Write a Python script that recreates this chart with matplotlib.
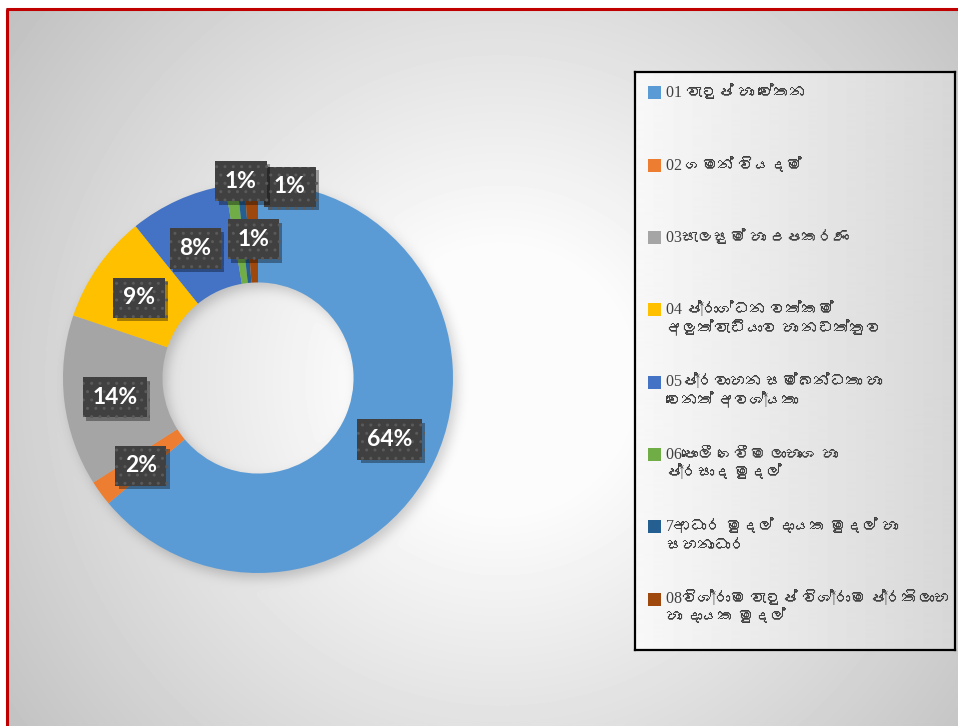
import numpy as np
import matplotlib.pyplot as plt
from matplotlib import font_manager, patheffects
from matplotlib.ft2font import FT2Font
from matplotlib.patches import Rectangle

categories = [
    "01 වැටුප් හා වේතන",
    "02 ගමන් වියදම්",
    "03සැලසුම් හා උපකරණ",
    "04 ප්‍රාග්ධන වත්කම්\nඅලුත්වැඩියාව හා නඩත්තුව",
    "05ප්‍රවාහන සම්බන්ධතා හා\nවෙනත් අවශ්‍යතා",
    "06පොලී ගෙවීම ලාභාංශ හා\nප්‍රසාද මුදල්",
    "7ආධාර මුදල් දායක මුදල් හා\nසහනාධාර",
    "08විශ්‍රාම වැටුප් විශ්‍රාම ප්‍රතිලාභ\nහා දායක මුදල්",
]
shares = [63.9, 2.1, 14.2, 9.0, 8.1, 1.0, 0.6, 1.1]
colors = ['#5B9BD5', '#ED7D31', '#A5A5A5', '#FFC000',
          '#4472C4', '#70AD47', '#255E91', '#9E480E']
# label nudges in pixels (right, up) for the crowded small slices
label_shift = [(0, 0), (0, -2), (1, -2), (0, -3), (-3, -3), (3, 53), (8, -6), (37, 46)]


def find_font(cp):
    for f in font_manager.fontManager.ttflist:
        try:
            if cp in FT2Font(f.fname).get_charmap():
                return f.name
        except Exception:
            pass
    return None


sinhala = find_font(0x0D9A)
legend_family = ['Liberation Serif'] + ([sinhala] if sinhala else []) + ['DejaVu Sans']

W, H = 958, 726
fig = plt.figure(figsize=(W / 100, H / 100), dpi=100)

# background: soft radial grey gradient + donut shadow
yy, xx = np.mgrid[0:H, 0:W]
r = np.hypot(xx - 500, yy - 380)
bg = 252 - 60 * np.clip((r - 130) / 490, 0, 1)
d = np.hypot(xx - 262, yy - 383)
ring = ((d > 96) & (d < 195)).astype(float)
k = np.exp(-0.5 * (np.arange(-18, 19) / 6) ** 2)
k /= k.sum()
ring = np.apply_along_axis(lambda v: np.convolve(v, k, 'same'), 1, ring)
ring = np.apply_along_axis(lambda v: np.convolve(v, k, 'same'), 0, ring)
bg = bg - 45 * ring
bg[:, :6] = 255
bg[:8, :] = 255

back = fig.add_axes([0, 0, 1, 1], zorder=-1)
back.imshow(bg, cmap='gray', vmin=0, vmax=255, extent=(0, W, H, 0), aspect='auto')
back.plot([7.5, 7.5], [H, 9], color='#c00000', lw=2.2, solid_capstyle='butt')
back.plot([6, W], [9, 9], color='#c00000', lw=2.2, solid_capstyle='butt')
back.set_xlim(0, W)
back.set_ylim(H, 0)
back.axis('off')

# doughnut
ax = fig.add_axes([(258 - 195) / W, (H - 378 - 195) / H, 390 / W, 390 / H])
wedges, _ = ax.pie(shares, colors=colors, startangle=90, counterclock=False,
                   radius=1, wedgeprops=dict(width=0.51, linewidth=0))
ax.set_xlim(-1, 1)
ax.set_ylim(-1, 1)
ax.axis('off')

n = len(shares)
for i, (w, v, (dx, dy)) in enumerate(zip(wedges, shares, label_shift)):
    ang = np.deg2rad((w.theta1 + w.theta2) / 2)
    x, y = 0.745 * np.cos(ang), 0.745 * np.sin(ang)
    t = ax.annotate(f'{v:.0f}%', (x, y), xytext=(dx * 0.72, dy * 0.72),
                    textcoords='offset points', ha='center', va='center',
                    fontsize=16.5, fontweight='bold', family='Lato', color='white',
                    bbox=dict(boxstyle='square,pad=0.42', fc='#404040', ec='#5a5a5a',
                              lw=0, hatch='..'),
                    zorder=5 + n - i, annotation_clip=False)
    t.get_bbox_patch().set_path_effects([
        patheffects.SimplePatchShadow(offset=(2.5, -2.5), shadow_rgbFace='black', alpha=0.35),
        patheffects.Normal()])

# legend box
lg = fig.add_axes([635 / W, (H - 650) / H, 320 / W, 578 / H])
grad = np.tile(248 - 33 * np.linspace(0, 1, 320), (578, 1))
lg.imshow(grad, cmap='gray', vmin=0, vmax=255, extent=(0, 320, 578, 0), aspect='auto')
lg.set_xlim(0, 320)
lg.set_ylim(578, 0)
lg.set_xticks([])
lg.set_yticks([])
for s in lg.spines.values():
    s.set_linewidth(1.6)
    s.set_color('black')

texts = []
rows = []
for i, (lab, c) in enumerate(zip(categories, colors)):
    yc = 21 + 72.3 * i
    rows.append(yc)
    lg.add_patch(Rectangle((13, yc - 6.5), 13, 13, color=c, lw=0))
    texts.append(lg.text(31, yc - 11, lab, va='top', ha='left', fontsize=14.5,
                         family=legend_family, color='#404040', linespacing=1.15))

# shrink legend text so the widest line fits inside the box
fig.canvas.draw()
rend = fig.canvas.get_renderer()
widest = max(t.get_window_extent(rend).width for t in texts)
avail = 320 - 31 - 6
if widest > avail:
    s = avail / widest
    for t, yc in zip(texts, rows):
        t.set_fontsize(14.5 * s)
        t.set_y(yc - 11 * s + 1)

fig.savefig('out.png', dpi=100)
